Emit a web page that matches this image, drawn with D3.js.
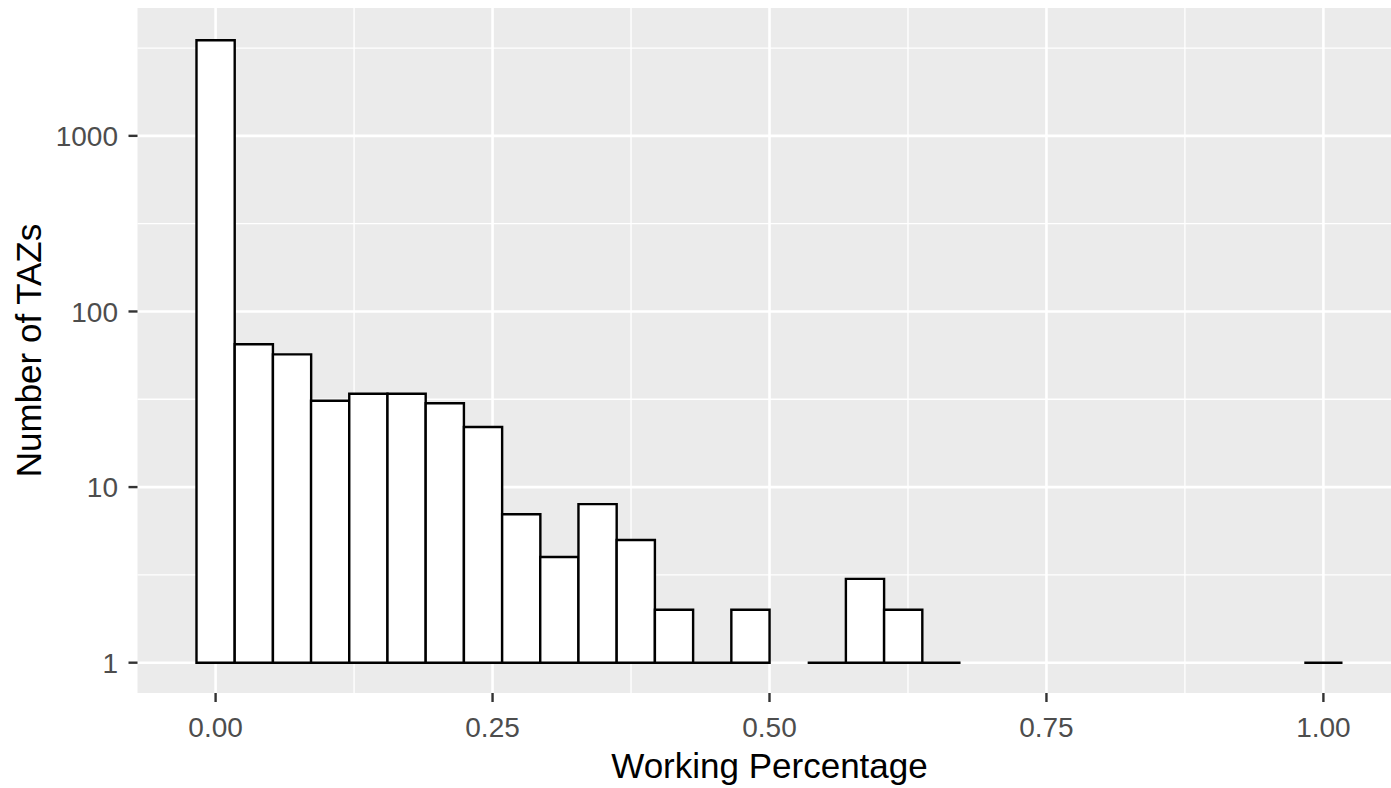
<!DOCTYPE html>
<html>
<head>
<meta charset="utf-8">
<script src="https://cdn.jsdelivr.net/npm/d3@7"></script>
<style>
  html, body { margin: 0; padding: 0; background: #ffffff; }
  svg { display: block; font-family: "Liberation Sans", Arial, sans-serif; }
</style>
</head>
<body>
<svg id="chart" width="1391" height="788"></svg>
<script>
// ---- data ----
const binCenters = [0.0000, 0.0345, 0.0690, 0.1034, 0.1379, 0.1724, 0.2069, 0.2414, 0.2759, 0.3103,
                    0.3448, 0.3793, 0.4138, 0.4483, 0.4828, 0.5172, 0.5517, 0.5862, 0.6207, 0.6552,
                    0.6897, 0.7241, 0.7586, 0.7931, 0.8276, 0.8621, 0.8966, 0.9310, 0.9655, 1.0000];
const counts = [3500, 65, 57, 31, 34, 34, 30, 22, 7, 4,
                8, 5, 2, 1, 2, 0, 1, 3, 2, 1,
                0, 0, 0, 0, 0, 0, 0, 0, 0, 1];
const binWidth = 0.0345;
const xTicks = [0, 0.25, 0.5, 0.75, 1];
const xTickLabels = ["0.00", "0.25", "0.50", "0.75", "1.00"];
const xMinor = [0.125, 0.375, 0.625, 0.875];
const yTicks = [1, 10, 100, 1000];
const yTickLabels = ["1", "10", "100", "1000"];
const yMinor = [Math.pow(10, 0.5), Math.pow(10, 1.5), Math.pow(10, 2.5), Math.pow(10, 3.5)];
const xTitle = "Working Percentage";
const yTitle = "Number of TAZs";

// ---- layout ----
const panel = { left: 137.5, right: 1401.5, top: 8, bottom: 693 };
const svg = d3.select("#chart");

const x = d3.scaleLinear().domain([-0.0705, 1.0705]).range([panel.left, panel.right]);
const y = d3.scaleLog().domain([Math.pow(10, -0.1726), Math.pow(10, 3.728)]).range([panel.bottom, panel.top]);

// panel background
svg.append("rect")
  .attr("x", panel.left).attr("y", panel.top)
  .attr("width", panel.right - panel.left).attr("height", panel.bottom - panel.top)
  .attr("fill", "#EBEBEB");

const grid = svg.append("g");
// minor grid
grid.selectAll("line.xminor").data(xMinor).enter().append("line")
  .attr("x1", d => x(d)).attr("x2", d => x(d))
  .attr("y1", panel.top).attr("y2", panel.bottom)
  .attr("stroke", "#ffffff").attr("stroke-width", 1.3);
grid.selectAll("line.yminor").data(yMinor).enter().append("line")
  .attr("y1", d => y(d)).attr("y2", d => y(d))
  .attr("x1", panel.left).attr("x2", panel.right)
  .attr("stroke", "#ffffff").attr("stroke-width", 1.3);
// major grid
grid.selectAll("line.xmajor").data(xTicks).enter().append("line")
  .attr("x1", d => x(d)).attr("x2", d => x(d))
  .attr("y1", panel.top).attr("y2", panel.bottom)
  .attr("stroke", "#ffffff").attr("stroke-width", 2.6);
grid.selectAll("line.ymajor").data(yTicks).enter().append("line")
  .attr("y1", d => y(d)).attr("y2", d => y(d))
  .attr("x1", panel.left).attr("x2", panel.right)
  .attr("stroke", "#ffffff").attr("stroke-width", 2.6);

// bars (counts of 0 are not drawn on log scale; count 1 gives zero height)
const bars = binCenters.map((c, i) => ({ c, n: counts[i] })).filter(d => d.n > 0);
svg.append("g").selectAll("path").data(bars).enter().append("path")
  .attr("d", d => {
    const x0 = x(d.c - binWidth / 2), x1 = x(d.c + binWidth / 2);
    const yb = y(1), yt = y(d.n);
    return `M${x0},${yb}V${yt}H${x1}V${yb}Z`;
  })
  .attr("fill", "#ffffff")
  .attr("stroke", "#000000")
  .attr("stroke-width", 2.4)
  .attr("stroke-linejoin", "miter");

// axes ticks
const axis = svg.append("g");
axis.selectAll("line.xt").data(xTicks).enter().append("line")
  .attr("x1", d => x(d)).attr("x2", d => x(d))
  .attr("y1", panel.bottom).attr("y2", panel.bottom + 9)
  .attr("stroke", "#333333").attr("stroke-width", 2.4);
axis.selectAll("line.yt").data(yTicks).enter().append("line")
  .attr("y1", d => y(d)).attr("y2", d => y(d))
  .attr("x1", panel.left - 9).attr("x2", panel.left)
  .attr("stroke", "#333333").attr("stroke-width", 2.4);

axis.selectAll("text.xl").data(xTicks).enter().append("text")
  .attr("x", d => x(d)).attr("y", 737)
  .attr("text-anchor", "middle")
  .attr("font-size", 28).attr("fill", "#4D4D4D")
  .text((d, i) => xTickLabels[i]);
axis.selectAll("text.yl").data(yTicks).enter().append("text")
  .attr("x", 118).attr("y", d => y(d))
  .attr("dy", "0.36em")
  .attr("text-anchor", "end")
  .attr("font-size", 28).attr("fill", "#4D4D4D")
  .text((d, i) => yTickLabels[i]);

// titles
svg.append("text")
  .attr("x", (panel.left + panel.right) / 2).attr("y", 778)
  .attr("text-anchor", "middle")
  .attr("font-size", 35).attr("fill", "#000000")
  .text(xTitle);
svg.append("text")
  .attr("transform", `translate(41,${(panel.top + panel.bottom) / 2}) rotate(-90)`)
  .attr("text-anchor", "middle")
  .attr("font-size", 35).attr("fill", "#000000")
  .text(yTitle);
</script>
</body>
</html>
